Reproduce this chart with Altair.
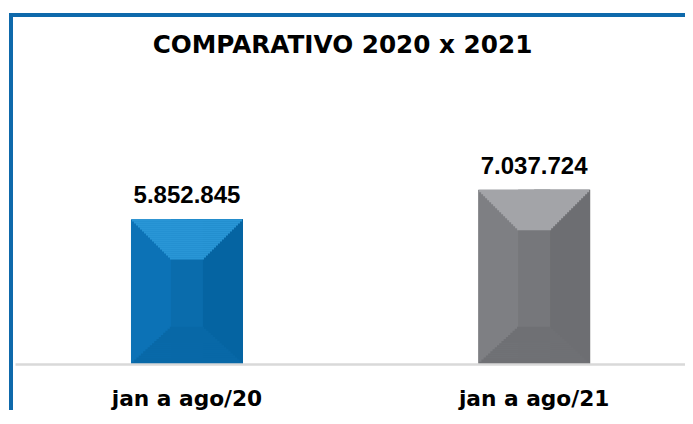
import altair as alt
import pandas as pd

TITLE = "COMPARATIVO 2020 x 2021"
categories = ["jan a ago/20", "jan a ago/21"]
values = [5852845, 7037724]

top_colors = ["#2996D6", "#A3A4A8"]
left_colors = ["#0C72B6", "#7E7F83"]
right_colors = ["#0564A2", "#6D6E72"]
center_colors = ["#0A6CAC", "#76777B"]
bottom_colors = ["#0868A7", "#6F7074"]

df = pd.DataFrame({"periodo": categories, "valor": values})
one = pd.DataFrame({"t": [TITLE]})

W, H = 670, 344
BAR = 112
INNER = 32
TOP_DEPTH = 40
BOT_DEPTH = 37
N_TOP = 20
N_BOT = 18

x = alt.X(
    "periodo:N", sort=categories, title=None,
    scale=alt.Scale(paddingInner=0.5, paddingOuter=0.215, align=0.5707),
    axis=alt.Axis(labelFont="DejaVu Sans", labelFontWeight="bold", labelFontSize=21.7,
                  labelColor="#000000", labelAngle=0, labelBaseline="alphabetic",
                  labelPadding=41, ticks=False, domainColor="#D9D9D9", domainWidth=2.5,
                  grid=False, zindex=1),
)
y = alt.Y("valor:Q", scale=alt.Scale(domain=[0, 13900000], nice=False), axis=None)


def col(rng):
    return alt.condition(alt.datum.periodo == categories[0], alt.value(rng[0]), alt.value(rng[1]))


base = alt.Chart(df)
layers = []
layers.append(base.mark_bar(size=BAR).encode(x=x, y=y, color=col(left_colors)))
layers.append(base.mark_bar(size=BAR / 2, xOffset=BAR / 4).encode(x=x, y=y, color=col(right_colors)))
layers.append(base.mark_bar(size=INNER).encode(x=x, y=y, color=col(center_colors)))

# top bevel face (trapezoid built from thin strips)
h = TOP_DEPTH / N_TOP
for k in range(N_TOP):
    w = BAR - (BAR - INNER) * (k + 0.5) / N_TOP
    layers.append(base.mark_bar(size=w, yOffset=k * h, y2Offset=(k + 1) * h + 0.3).encode(
        x=x, y=y, y2=alt.Y2("valor"), color=col(top_colors)))

# bottom bevel face, anchored at the zero baseline
zero_base = base.transform_calculate(valor="0")
hb = BOT_DEPTH / N_BOT
for k in range(N_BOT):
    w = BAR - (BAR - INNER) * (k + 0.5) / N_BOT
    layers.append(zero_base.mark_bar(size=w, yOffset=-(k + 1) * hb - 0.3, y2Offset=-k * hb).encode(
        x=x, y=y, y2=alt.Y2("valor"), color=col(bottom_colors)))

labels = base.transform_calculate(
    rotulo="join(split(format(datum.valor, ','), ','), '.')"
).mark_text(font="Liberation Sans", fontWeight="bold", fontSize=24, dy=-16,
            baseline="alphabetic", color="#000000").encode(
    x=x, y=y, text="rotulo:N")

title = alt.Chart(one).mark_text(font="DejaVu Sans", fontWeight="bold", fontSize=24.7, align="center",
                                 baseline="alphabetic", color="#000000").encode(
    text="t:N", x=alt.value(327.5), y=alt.value(33))

border_left = alt.Chart(one).mark_rule(color="#0E69AB", strokeWidth=4).encode(
    x=alt.value(-4), y=alt.value(-7), y2=alt.value(H + 200))
border_top = alt.Chart(one).mark_rule(color="#0E69AB", strokeWidth=4).encode(
    y=alt.value(-5), x=alt.value(-6), x2=alt.value(W + 100))

chart = alt.layer(
    border_left, border_top, *layers, labels, title
).properties(
    width=W, height=H,
    padding={"left": 7, "top": 12, "right": 0, "bottom": 46},
    autosize=alt.AutoSizeParams(type="none"),
).configure_view(stroke=None)

chart.save("out.html", embed_options={"renderer": "svg", "actions": False})
